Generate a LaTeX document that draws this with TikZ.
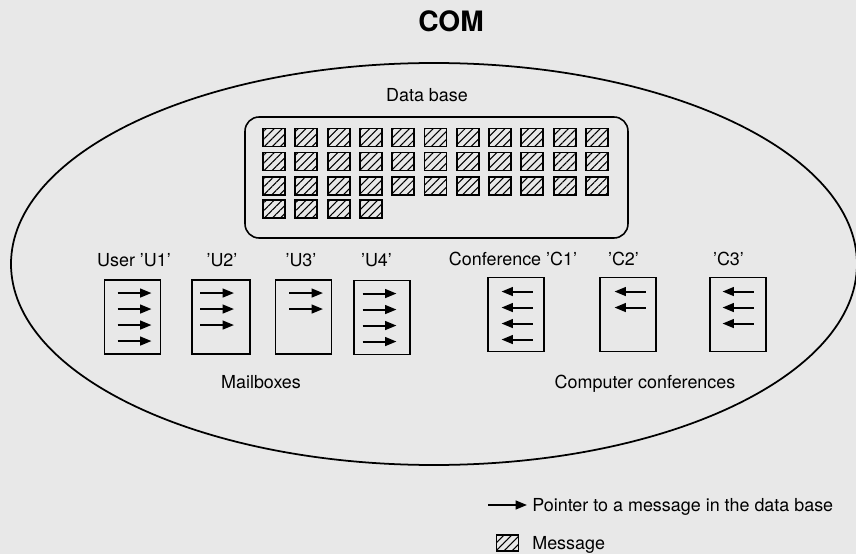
\documentclass[tikz,border=0pt]{standalone}
\usepackage{fontspec}
\setmainfont{TeX Gyre Heros}
\usepackage{tikz}
\usetikzlibrary{arrows.meta}
\usetikzlibrary{patterns.meta, positioning, shapes.geometric}

\tikzset{
    lbl/.style={inner sep=0pt, anchor=base, font=\fontsize{10.2}{12}\selectfont},
    mbox/.style={draw, line width=1.1pt, inner sep=0pt, minimum width=1.12cm, minimum height=1.48cm},
    msg/.style={draw, line width=1.1pt, inner sep=0pt, minimum width=0.44cm, minimum height=0.36cm,
        pattern={Lines[angle=45, distance=3.2pt, line width=0.6pt]}},
    ptr/.style={-{Triangle[length=6.5pt, width=5pt]}, line width=1.1pt}
}

\begin{document}
\begin{tikzpicture}[x=0.02cm, y=-0.02cm]
        \fill[black!9] (0,0) rectangle (856,554);
        \useasboundingbox (0,0) rectangle (856,554);
        \node[inner sep=0pt, anchor=base, font=\fontsize{16}{18}\bfseries] (com) at (451,32) {COM};
        \draw[line width=1pt] (434,264) ellipse [x radius=423, y radius=201];

        \node[lbl] (dbtxt) at (427,102) {Data base};
        \node[draw, line width=0.9pt, rounded corners=0.28cm, minimum width=7.66cm, minimum height=2.42cm] (db) at (436.5,177.5) {};
        \foreach \r/\y/\n in {1/137.5/11, 2/161.5/11, 3/186/11, 4/209/4}
            \foreach \c in {1,...,\n}
                \node[msg] (m\r-\c) at ({274+32.3*(\c-1)},\y) {};

        \node[lbl] (u1txt) at (134,266.5) {User 'U1'};
        \node[lbl] (u2txt) at (222,266.5) {'U2'};
        \node[lbl] (u3txt) at (301,266.5) {'U3'};
        \node[lbl] (u4txt) at (376.5,266.5) {'U4'};
        \node[lbl] (c1txt) at (513,265.5) {Conference 'C1'};
        \node[lbl] (c2txt) at (623.5,265.5) {'C2'};
        \node[lbl] (c3txt) at (728.5,265.5) {'C3'};

        \node[mbox] (u1) at (132.5,317) {};
        \node[mbox, minimum width=1.16cm] (u2) at (221,317) {};
        \node[mbox] (u3) at (303.5,317) {};
        \node[mbox] (u4) at (382,317.5) {};
        \node[mbox] (c1) at (516,314.5) {};
        \node[mbox] (c2) at (628,314.5) {};
        \node[mbox] (c3) at (738,314.5) {};

        \foreach \b/\n/\d in {u1/4/2, u2/3/-4, u3/2/2.5, u4/4/-2.5}
            \foreach \i in {1,...,\n}
                \draw[ptr] ([shift={(\d-17,14+16*(\i-1))}]\b.north) -- ++(34,0);
        \foreach \b/\n/\d in {c1/4/1, c2/2/2, c3/3/0}
            \foreach \i in {1,...,\n}
                \draw[ptr] ([shift={(\d+15.5,15+16*(\i-1))}]\b.north) -- ++(-31,0);

        \node[lbl] (mbtxt) at (261,388.5) {Mailboxes};
        \node[lbl] (cctxt) at (645,388.5) {Computer conferences};

        \coordinate (ptrtail) at (488,505);
        \coordinate (ptrtip) at (527,505);
        \draw[ptr] (ptrtail) -- (ptrtip);
        \node[lbl, anchor=base west] (ptrtxt) at (532,511.5) {Pointer to a message in the data base};
        \node[msg, minimum height=0.32cm] (legmsg) at (507.5,543) {};
        \node[lbl, anchor=base west] (msgtxt) at (532,549.5) {Message};
\end{tikzpicture}
\end{document}
